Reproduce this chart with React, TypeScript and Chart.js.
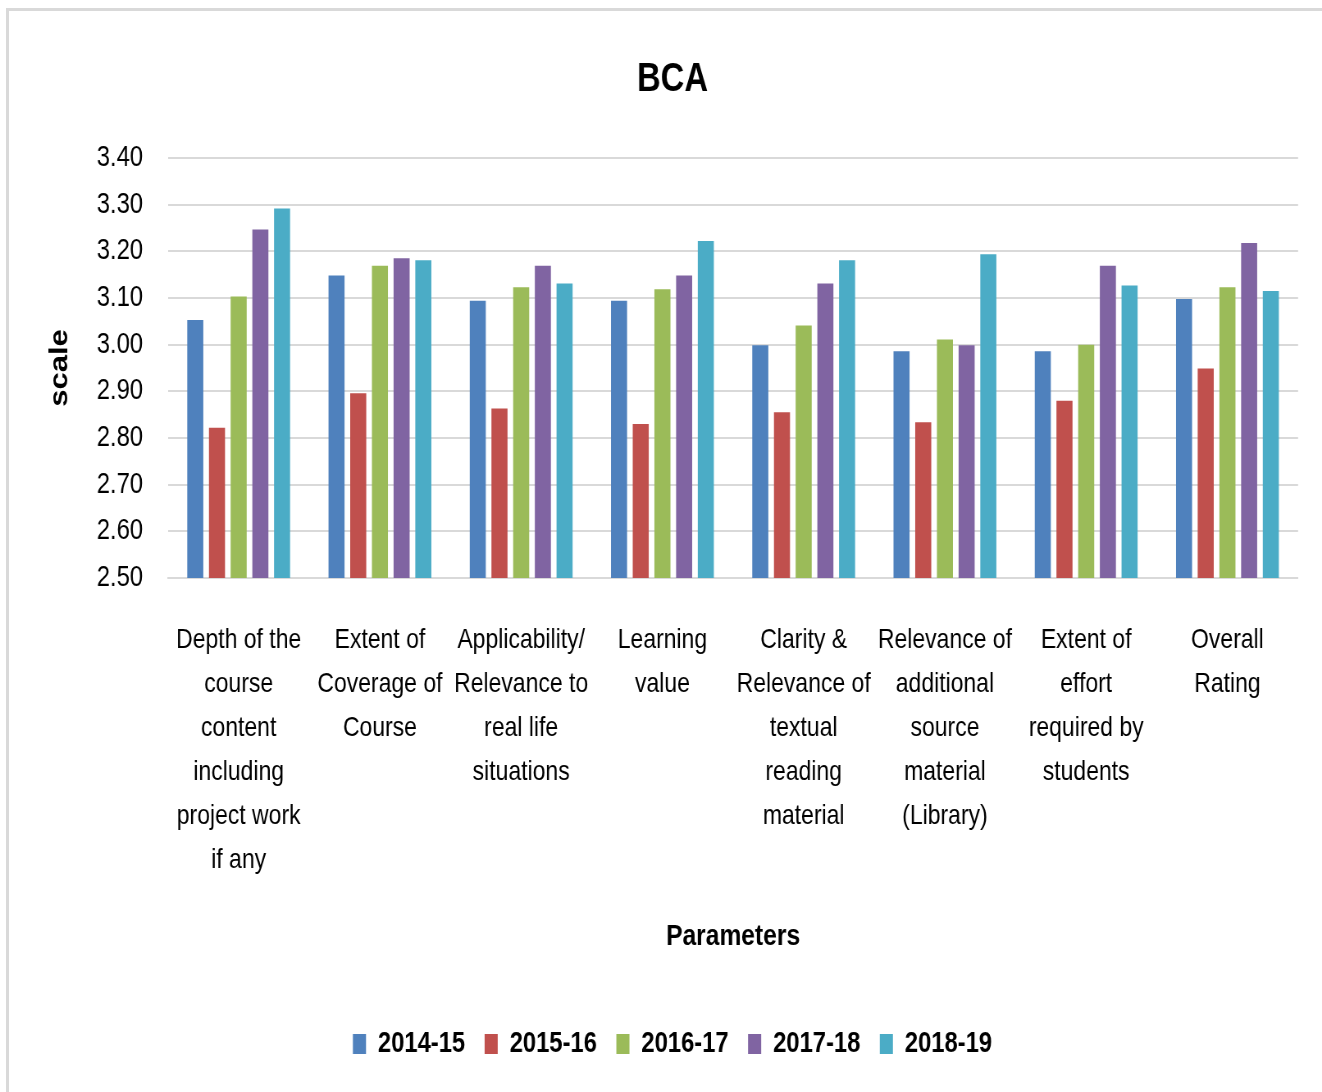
import React, { useEffect, useRef } from "react";
import { Chart, registerables } from "chart.js";

Chart.register(...registerables);

const categories: string[][] = [
  ["Depth of the", "course", "content", "including", "project work", "if any"],
  ["Extent of", "Coverage of", "Course"],
  ["Applicability/", "Relevance to", "real life", "situations"],
  ["Learning", "value"],
  ["Clarity &", "Relevance of", "textual", "reading", "material"],
  ["Relevance of", "additional", "source", "material", "(Library)"],
  ["Extent of", "effort", "required by", "students"],
  ["Overall", "Rating"],
];

const seriesNames = ["2014-15", "2015-16", "2016-17", "2017-18", "2018-19"];
const seriesColors = ["#4F81BD", "#C0504D", "#9BBB59", "#8064A2", "#4BACC6"];

const values2014_15 = [3.053, 3.148, 3.094, 3.094, 2.999, 2.986, 2.986, 3.098];
const values2015_16 = [2.822, 2.896, 2.863, 2.83, 2.855, 2.834, 2.88, 2.949];
const values2016_17 = [3.103, 3.169, 3.123, 3.119, 3.041, 3.011, 3.0, 3.123];
const values2017_18 = [3.247, 3.185, 3.169, 3.148, 3.131, 2.999, 3.169, 3.218];
const values2018_19 = [3.292, 3.181, 3.131, 3.222, 3.181, 3.194, 3.127, 3.115];

const yMin = 2.5;
const yMax = 3.4;
const yStep = 0.1;

const FONT = "'Liberation Sans', Arial, sans-serif";

// The chart is drawn on a wider canvas and narrowed horizontally so the
// Arial-metric font takes the condensed look of the original.
const VIEW_W = 1322;
const VIEW_H = 1092;
const CANVAS_W = 1612;
const SX = VIEW_W / CANVAS_W;

export default function App() {
  const canvasRef = useRef<HTMLCanvasElement | null>(null);

  useEffect(() => {
    const canvas = canvasRef.current;
    if (!canvas) return;
    const allValues = [values2014_15, values2015_16, values2016_17, values2017_18, values2018_19];
    const chart = new Chart(canvas, {
      type: "bar",
      data: {
        labels: categories,
        datasets: seriesNames.map((name, i) => ({
          label: name,
          data: allValues[i],
          backgroundColor: seriesColors[i],
          borderWidth: 0,
          categoryPercentage: 0.768,
          barPercentage: 0.74,
          yAxisID: "y",
        })),
      },
      options: {
        responsive: false,
        animation: false,
        devicePixelRatio: 1,
        layout: { padding: { left: 28, right: 0, top: 0, bottom: 23.5 } },
        plugins: {
          tooltip: { enabled: false },
          title: {
            display: true,
            text: "BCA",
            color: "#000",
            font: { family: FONT, size: 40, weight: "bold" },
            padding: { top: 56, bottom: 54 },
          },
          legend: {
            position: "bottom",
            labels: {
              color: "#000",
              font: { family: FONT, size: 29, weight: "bold" },
              boxWidth: 16,
              boxHeight: 20,
              padding: 23.7,
            },
          },
        },
        scales: {
          x: {
            grid: { display: false, drawTicks: false },
            border: { display: true, color: "#d9d9d9", width: 2 },
            ticks: {
              color: "#000",
              autoSkip: false,
              maxRotation: 0,
              minRotation: 0,
              padding: 40,
              font: { family: FONT, size: 28, lineHeight: "44px" },
            },
            title: {
              display: true,
              text: "Parameters",
              color: "#000",
              font: { family: FONT, size: 30, weight: "bold" },
              padding: { top: 0, bottom: 50.8 },
            },
            afterFit: (scale: any) => {
              scale.height = 427.8;
            },
          },
          y: {
            position: "left",
            min: yMin,
            max: yMax,
            grid: { color: "#d9d9d9", lineWidth: 2, drawTicks: false },
            border: { display: false },
            ticks: {
              stepSize: yStep,
              color: "#000",
              padding: 30.5,
              font: { family: FONT, size: 29 },
              callback: (v: any) => Number(v).toFixed(2),
            },
            title: {
              display: true,
              text: "scale",
              color: "#000",
              font: { family: FONT, size: 31, weight: "bold" },
              padding: { top: 26.6, bottom: 0 },
            },
            afterFit: (scale: any) => {
              scale.width = 176.9;
            },
          },
          spacer: {
            type: "linear",
            position: "right",
            display: true,
            grid: { display: false, drawTicks: false },
            border: { display: false },
            ticks: { display: false },
            afterFit: (scale: any) => {
              scale.width = 29.2;
            },
          },
        },
      },
    });
    return () => chart.destroy();
  }, []);

  return (
    <div
      style={{
        position: "fixed",
        left: 0,
        top: 0,
        width: VIEW_W,
        height: VIEW_H,
        overflow: "hidden",
        background: "#fff",
      }}
    >
      <div
        style={{
          position: "absolute",
          left: 6,
          top: 8,
          width: 1600,
          height: 1300,
          borderLeft: "3px solid #d9d9d9",
          borderTop: "3px solid #d9d9d9",
        }}
      />
      <canvas
        ref={canvasRef}
        width={CANVAS_W}
        height={VIEW_H}
        style={{
          position: "absolute",
          left: 0,
          top: 0,
          width: CANVAS_W,
          height: VIEW_H,
          transformOrigin: "0 0",
          transform: `scaleX(${SX})`,
        }}
      />
    </div>
  );
}
